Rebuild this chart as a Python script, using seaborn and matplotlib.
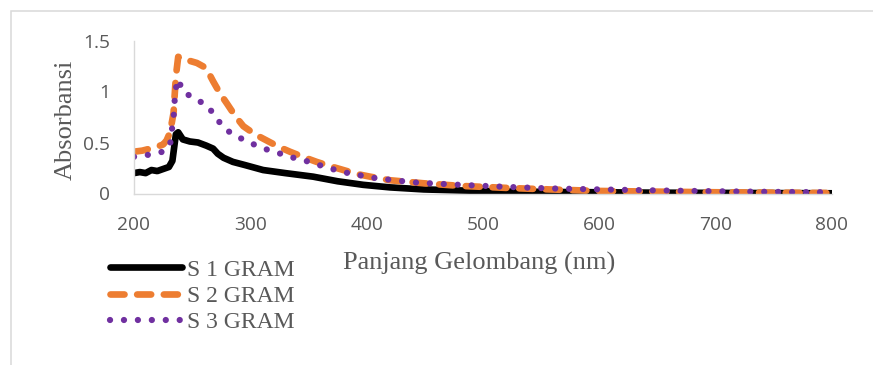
import matplotlib
matplotlib.use("Agg")
import matplotlib.pyplot as plt
from matplotlib.patches import Rectangle
import numpy as np
import pandas as pd
import seaborn as sns

# ---- data ----
s1_x = [200, 205, 210, 215, 220, 225, 230, 233, 236, 238, 242, 248, 255, 262, 268, 272, 277,
        285, 295, 311, 330, 354, 375, 397, 420, 449, 480, 520, 560, 600, 650, 700, 750, 800]
s1_y = [0.20, 0.21, 0.20, 0.23, 0.22, 0.24, 0.26, 0.32, 0.58, 0.60, 0.53, 0.51, 0.50, 0.47, 0.44, 0.39, 0.35,
        0.31, 0.28, 0.23, 0.20, 0.165, 0.12, 0.085, 0.06, 0.04, 0.03, 0.02, 0.015, 0.012, 0.008, 0.006, 0.004, 0.002]

s2_x = [200, 207, 214, 220, 225, 228, 231, 234, 236, 238, 242, 248, 254, 262, 268, 274, 280, 287, 294,
        304, 314, 324, 334, 345, 357, 368, 380, 392, 403, 420, 449, 480, 520, 557, 600, 650, 700, 750, 800]
s2_y = [0.41, 0.42, 0.44, 0.46, 0.48, 0.52, 0.60, 0.79, 1.15, 1.34, 1.33, 1.30, 1.28, 1.23, 1.10, 0.98, 0.88, 0.76, 0.66,
        0.58, 0.52, 0.46, 0.41, 0.36, 0.31, 0.27, 0.23, 0.19, 0.165, 0.13, 0.10, 0.075, 0.055, 0.04, 0.025, 0.018, 0.012, 0.008, 0.005]

s3_x = [200, 208, 217, 225, 231, 232.5, 234, 235.5, 238, 242, 252, 262, 270, 276, 286, 296, 306, 317,
        329, 340, 351, 367, 384, 408, 430, 444, 480, 520, 557, 600, 650, 700, 750, 800]
s3_y = [0.36, 0.37, 0.39, 0.41, 0.475, 0.62, 0.74, 1.01, 1.12, 1.00, 0.93, 0.87, 0.76, 0.655, 0.57, 0.52, 0.465, 0.42,
        0.38, 0.34, 0.31, 0.25, 0.20, 0.15, 0.122, 0.106, 0.085, 0.065, 0.05, 0.04, 0.03, 0.022, 0.016, 0.012]

series_names = ["S 1 GRAM", "S 2 GRAM", "S 3 GRAM"]
series_colors = ["#000000", "#ED7D31", "#7030A0"]
x_ticks = [200, 300, 400, 500, 600, 700, 800]
y_ticks = [0, 0.5, 1, 1.5]
y_tick_labels = ["0", "0.5", "1", "1.5"]
x_title = "Panjang Gelombang (nm)"
y_title = "Absorbansi"

# ---- figure ----
sns.set_theme(style="white")
plt.rcParams["font.family"] = ["DejaVu Sans"]
W, H = 873, 365
fig = plt.figure(figsize=(W / 100, H / 100), dpi=100)
fig.patch.set_facecolor("white")

left, right, top, bottom = 134, 832, 40.5, 193.5
ax = fig.add_axes([left / W, 1 - bottom / H, (right - left) / W, (bottom - top) / H])
ax.set_facecolor("white")

xs = [s1_x, s2_x, s3_x]
ys = [s1_y, s2_y, s3_y]
widths = [4.8, 4.8, 4.5]
for name, col, x, y, w in zip(series_names, series_colors, xs, ys, widths):
    df = pd.DataFrame({"x": x, "y": y})
    sns.lineplot(data=df, x="x", y="y", ax=ax, color=col, linewidth=w, label=name,
                 estimator=None, sort=True, legend=False)

lines = ax.lines[:3]
for ln in lines:
    ln.set_solid_capstyle("round")
    ln.set_solid_joinstyle("round")
    ln.set_dash_capstyle("round")
    ln.set_dash_joinstyle("round")
lines[1].set_dashes((2.1, 1.9))
lines[2].set_dashes((0.01, 2.22))

ax.set_xlim(200, 800)
ax.set_ylim(0, 1.5)
ax.set_xticks(x_ticks)
ax.set_yticks(y_ticks)
ax.set_yticklabels(y_tick_labels)

tick_family = ["Open Sans", "DejaVu Sans"]
for lab in ax.get_xticklabels() + ax.get_yticklabels():
    lab.set_fontfamily(tick_family)
    lab.set_fontsize(13.8)
    lab.set_color("#595959")
ax.tick_params(axis="x", length=0, pad=16)
ax.tick_params(axis="y", length=0, pad=17)

for s in ["top", "right"]:
    ax.spines[s].set_visible(False)
for s in ["left", "bottom"]:
    ax.spines[s].set_color("#d9d9d9")
    ax.spines[s].set_linewidth(1.0)
ax.grid(False)

serif = ["Liberation Serif", "DejaVu Serif"]
ax.set_xlabel(x_title, fontfamily=serif, fontsize=19, color="#595959")
ax.set_ylabel(y_title, fontfamily=serif, fontsize=19, color="#595959")
ax.xaxis.set_label_coords((479 - left) / (right - left), (bottom - 270) / (bottom - top))
ax.xaxis.label.set_verticalalignment("baseline")
ax.yaxis.set_label_coords((71.5 - left) / (right - left), (bottom - 120) / (bottom - top))
ax.yaxis.label.set_verticalalignment("baseline")

leg = fig.legend(handles=lines, labels=series_names, loc="upper left",
                 bbox_to_anchor=(110 / W, 1 - 259 / H), frameon=False,
                 prop={"family": serif, "size": 17}, handlelength=3.05,
                 handletextpad=0.2, labelspacing=0.2, borderpad=0, borderaxespad=0)
for t in leg.get_texts():
    t.set_color("#595959")

# outer chart border (partly cropped in reference)
fig.patches.append(Rectangle((10.5 / W, -0.2), 1.5, 1 - 11 / H + 0.2, transform=fig.transFigure,
                             fill=False, edgecolor="#d9d9d9", linewidth=1.1, zorder=0))

fig.savefig("out.png", dpi=100)
